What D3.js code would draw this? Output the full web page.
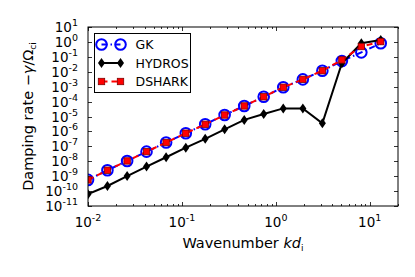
<!DOCTYPE html>
<html>
<head>
<meta charset="utf-8">
<script src="https://cdn.jsdelivr.net/npm/d3@7"></script>
<style>
  body { margin: 0; background: #fff; }
  text { font-family: "DejaVu Sans", sans-serif; fill: #000; }
</style>
</head>
<body>
<div id="chart"></div>
<script>
// wavenumber k d_i
var kValues = [0.0100, 0.0161, 0.0261, 0.0420, 0.0679, 0.110, 0.177, 0.285,
               0.461, 0.743, 1.20, 1.94, 3.13, 5.05, 8.14, 13.1];
// damping rate -gamma/Omega_ci
var gkValues = [5.6e-10, 2.5e-9, 1.05e-8, 4.4e-8, 1.8e-7, 7.6e-7, 3.0e-6, 1.26e-5,
                5.1e-5, 2.1e-4, 9.1e-4, 3.1e-3, 1.17e-2, 5.2e-2, 0.20, 0.81];
var hydrosValues = [6.2e-11, 2.2e-10, 1.02e-9, 4.4e-9, 1.86e-8, 8.1e-8, 3.2e-7, 1.38e-6,
                    5.9e-6, 1.48e-5, 3.5e-5, 3.5e-5, 3.5e-6, 3.7e-2, 0.81, 1.35];
var dsharkValues = [5.6e-10, 2.5e-9, 1.05e-8, 4.4e-8, 1.8e-7, 7.6e-7, 3.0e-6, 1.26e-5,
                    5.1e-5, 2.1e-4, 9.1e-4, 3.1e-3, 1.17e-2, 6.2e-2, 0.49, 1.05];
var seriesNames = ["GK", "HYDROS", "DSHARK"];
var xTickExp = [-2, -1, 0, 1];
var yTickExp = [1, 0, -1, -2, -3, -4, -5, -6, -7, -8, -9, -10, -11];

var width = 415, height = 277;
var margin = {top: 27, right: 17, bottom: 71, left: 88};
var chartWidth = width - margin.left - margin.right;
var chartHeight = height - margin.top - margin.bottom;

var svg = d3.select("#chart").append("svg")
    .attr("width", width)
    .attr("height", height);

var chartGroup = svg.append("g")
    .attr("transform", `translate(${margin.left}, ${margin.top})`);

var x = d3.scaleLog().domain([0.01, 20]).range([0, chartWidth]);
var y = d3.scaleLog().domain([1e-11, 10]).range([chartHeight, 0]);

// clip
chartGroup.append("clipPath").attr("id", "clip")
  .append("rect").attr("width", chartWidth).attr("height", chartHeight);

// ticks (inside, all four sides)
var majorX = xTickExp.map(e => Math.pow(10, e));
var minorX = [];
xTickExp.forEach(function(e) {
  for (var m = 2; m <= 9; m++) {
    var v = m * Math.pow(10, e);
    if (v <= 20) minorX.push(v);
  }
});
var majorY = yTickExp.map(e => Math.pow(10, e));

var ticks = chartGroup.append("g").attr("stroke", "#000").attr("stroke-width", 0.8);
majorX.forEach(function(v) {
  var px = Math.round(x(v)) + 0.5;
  ticks.append("line").attr("x1", px).attr("x2", px).attr("y1", chartHeight).attr("y2", chartHeight - 4);
  ticks.append("line").attr("x1", px).attr("x2", px).attr("y1", 0).attr("y2", 4);
});
minorX.forEach(function(v) {
  var px = Math.round(x(v)) + 0.5;
  ticks.append("line").attr("x1", px).attr("x2", px).attr("y1", chartHeight).attr("y2", chartHeight - 2);
  ticks.append("line").attr("x1", px).attr("x2", px).attr("y1", 0).attr("y2", 2);
});
majorY.forEach(function(v) {
  var py = Math.round(y(v)) + 0.5;
  ticks.append("line").attr("x1", 0).attr("x2", 4).attr("y1", py).attr("y2", py);
  ticks.append("line").attr("x1", chartWidth).attr("x2", chartWidth - 4).attr("y1", py).attr("y2", py);
});

// tick labels
xTickExp.forEach(function(e) {
  var t = chartGroup.append("text")
    .attr("x", x(Math.pow(10, e)))
    .attr("y", chartHeight + 21)
    .attr("text-anchor", "middle")
    .style("font-size", "13.5px");
  t.append("tspan").text("10");
  t.append("tspan").attr("dy", -6).style("font-size", "9.5px").text(e < 0 ? "-" + (-e) : e);
});
yTickExp.forEach(function(e) {
  var t = chartGroup.append("text")
    .attr("x", -10)
    .attr("y", y(Math.pow(10, e)) + 5)
    .attr("text-anchor", "end")
    .style("font-size", "13.5px");
  t.append("tspan").text("10");
  t.append("tspan").attr("dy", -6).style("font-size", "9.5px").text(e < 0 ? "-" + (-e) : e);
});

// series
var plot = chartGroup.append("g").attr("clip-path", "url(#clip)");
var line = d3.line().x(d => x(d[0])).y(d => y(d[1]));
var gkData = kValues.map((k, i) => [k, gkValues[i]]);
var hyData = kValues.map((k, i) => [k, hydrosValues[i]]);
var dsData = kValues.map((k, i) => [k, dsharkValues[i]]);

var diamond = "M0,-5L3.5,0L0,5L-3.5,0Z";

function drawGK(g, data) {
  g.append("path").datum(data).attr("d", line)
    .attr("fill", "none").attr("stroke", "#0000ff").attr("stroke-width", 2)
    .attr("stroke-dasharray", "6,3,1.5,3");
  g.selectAll(".gk").data(data).enter().append("circle")
    .attr("cx", d => x(d[0])).attr("cy", d => y(d[1])).attr("r", 5.3)
    .attr("fill", "none").attr("stroke", "#0000ff").attr("stroke-width", 2);
}
function drawHY(g, data) {
  g.append("path").datum(data).attr("d", line)
    .attr("fill", "none").attr("stroke", "#000").attr("stroke-width", 2);
  g.selectAll(".hy").data(data).enter().append("path")
    .attr("d", diamond)
    .attr("transform", d => `translate(${x(d[0])},${y(d[1])})`)
    .attr("fill", "#000");
}
function drawDS(g, data) {
  g.append("path").datum(data).attr("d", line)
    .attr("fill", "none").attr("stroke", "#ff0000").attr("stroke-width", 2)
    .attr("stroke-dasharray", "6,4");
  g.selectAll(".ds").data(data).enter().append("rect")
    .attr("x", d => x(d[0]) - 3.2).attr("y", d => y(d[1]) - 3.2)
    .attr("width", 6.4).attr("height", 6.4)
    .attr("fill", "#ff0000").attr("stroke", "#800000").attr("stroke-width", 0.8);
}
drawGK(plot, gkData);
drawHY(plot, hyData);
drawDS(plot, dsData);

// frame
chartGroup.append("rect")
  .attr("width", chartWidth).attr("height", chartHeight)
  .attr("fill", "none").attr("stroke", "#000").attr("stroke-width", 1);

// legend
var legend = chartGroup.append("g").attr("transform", "translate(6, 6)");
legend.append("rect").attr("x", 0.5).attr("y", 0.5).attr("width", 96).attr("height", 59)
  .attr("fill", "#fff").attr("stroke", "#000").attr("stroke-width", 1);
var lx = d3.scaleLinear().domain([0, 1]).range([7.5, 26.5]);
var rowY = [11.5, 30, 48.5];
var drawers = [drawGK, drawHY, drawDS];
seriesNames.forEach(function(name, i) {
  var row = legend.append("g");
  var lineSave = line;
  line = d3.line().x(d => lx(d[0])).y(d => rowY[i]);
  var xs = x, ys = y;
  x = lx; y = () => rowY[i];
  drawers[i](row, [[0, 1], [1, 1]]);
  x = xs; y = ys; line = lineSave;
  legend.append("text").attr("x", 41.5).attr("y", rowY[i] + 4.5)
    .style("font-size", "12.5px").text(name);
});

// axis labels
var xl = svg.append("text")
  .attr("x", margin.left + chartWidth / 2)
  .attr("y", 248)
  .attr("text-anchor", "middle")
  .style("font-size", "14.5px");
xl.append("tspan").text("Wavenumber ");
xl.append("tspan").style("font-style", "italic").text("kd");
xl.append("tspan").attr("dy", 3).style("font-size", "9px").text("i");

var yl = svg.append("text")
  .attr("transform", `translate(33, ${margin.top + chartHeight / 2}) rotate(-90)`)
  .attr("text-anchor", "middle")
  .style("font-size", "14.5px");
yl.append("tspan").text("Damping rate  \u2212");
yl.append("tspan").style("font-style", "italic").text("\u03b3");
yl.append("tspan").text("/\u03a9");
yl.append("tspan").attr("dy", 3).style("font-size", "9px").text("ci");
</script>
</body>
</html>
